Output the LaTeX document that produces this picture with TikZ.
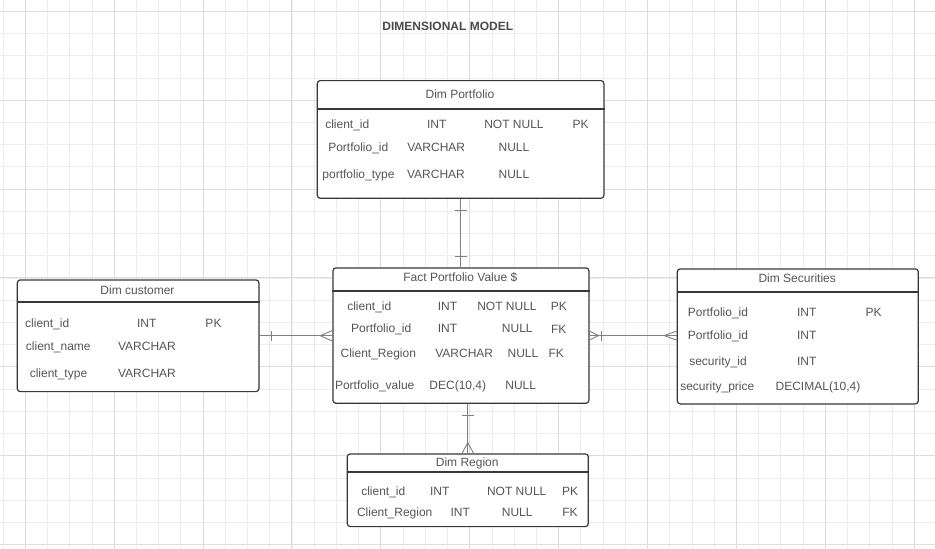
\documentclass[tikz,border=0pt]{standalone}
\usepackage{fontspec}
\setmainfont{Liberation Sans}
\definecolor{gridminor}{HTML}{EDEDED}
\definecolor{gridmajor}{HTML}{DDDDDD}
\definecolor{textgray}{HTML}{555555}
\definecolor{titlegray}{HTML}{4A4A4A}
\definecolor{boxgray}{HTML}{383838}
\definecolor{linegray}{HTML}{808080}
\newcommand\ercell[4]{\node[txt] (#1) at (#2,#3) {#4};}
\tikzset{
  txt/.style={font=\fontsize{12}{14}\selectfont, text=textgray, inner sep=0pt, text height=8.6pt, text depth=0pt, anchor=center},
  tbl/.style={draw=boxgray, line width=1.2pt, rounded corners=3pt, fill=white, anchor=north west, inner sep=0pt},
  sep/.style={draw=boxgray, line width=2pt},
  conn/.style={draw=linegray, line width=0.9pt},
  gminor/.style={draw=gridminor, line width=0.9pt},
  gmajor/.style={draw=gridmajor, line width=1pt},
}
\begin{document}
\begin{tikzpicture}[x=1pt,y=-1pt]
\fill[white] (0,0) rectangle (935,549);
\useasboundingbox (0,0) rectangle (935,549);
% grid
\foreach \i in {0,...,42} {\draw[gminor] ({3.1+22.222*\i},0) -- ({3.1+22.222*\i},549);}
\foreach \j in {0,...,24} {\draw[gminor] (0,{11.3+22.222*\j}) -- (935,{11.3+22.222*\j});}
\foreach \i in {0,...,10} {\draw[gmajor] ({25.3+88.889*\i},0) -- ({25.3+88.889*\i},549);}
\foreach \j in {0,...,6} {\draw[gmajor] (0,{11.3+88.889*\j}) -- (935,{11.3+88.889*\j});}

% title
\node[txt, font=\fontsize{12}{14}\selectfont\bfseries, text=titlegray] (title) at (447.8,25.7) {DIMENSIONAL MODEL};

% tables
\node[tbl, minimum width=286.6pt, minimum height=117.7pt] (port) at (316.7,80) {};
\node[tbl, minimum width=241.6pt, minimum height=111.7pt] (cust) at (16.7,279.3) {};
\node[tbl, minimum width=256pt, minimum height=135.4pt] (fact) at (332.3,267.3) {};
\node[tbl, minimum width=241pt, minimum height=135pt] (sec) at (676.7,268.3) {};
\node[tbl, minimum width=241pt, minimum height=72.7pt] (reg) at (346.7,453.3) {};

\draw[sep] ([yshift=-29.3pt]port.north west) -- ([yshift=-29.3pt]port.north east);
\draw[sep] ([yshift=-23pt]cust.north west) -- ([yshift=-23pt]cust.north east);
\draw[sep] ([yshift=-23.4pt]fact.north west) -- ([yshift=-23.4pt]fact.north east);
\draw[sep] ([yshift=-23.4pt]sec.north west) -- ([yshift=-23.4pt]sec.north east);
\draw[sep] ([yshift=-18.4pt]reg.north west) -- ([yshift=-18.4pt]reg.north east);

% Dim Portfolio
\ercell{pt}{460}{94}{Dim Portfolio}
\ercell{pa1}{347.3}{124.3}{client\_id}
\ercell{pb1}{436.7}{124.3}{INT}
\ercell{pc1}{514}{124.3}{NOT NULL}
\ercell{pd1}{580.7}{124.3}{PK}
\ercell{pa2}{358.3}{146.7}{Portfolio\_id}
\ercell{pb2}{436.2}{146.7}{VARCHAR}
\ercell{pc2}{514}{146.7}{NULL}
\ercell{pa3}{358.5}{174}{portfolio\_type}
\ercell{pb3}{436}{174}{VARCHAR}
\ercell{pc3}{514}{174}{NULL}

% Dim customer
\ercell{ct}{137.5}{290}{Dim customer}
\ercell{ca1}{47.2}{323.3}{client\_id}
\ercell{cb1}{146.7}{323.3}{INT}
\ercell{cc1}{213.5}{323.3}{PK}
\ercell{ca2}{58.3}{346}{client\_name}
\ercell{cb2}{147}{346}{VARCHAR}
\ercell{ca3}{58.5}{372.7}{client\_type}
\ercell{cb3}{147}{372.7}{VARCHAR}

% Fact
\ercell{ft}{460.3}{277.3}{Fact Portfolio Value \$}
\ercell{fa1}{369.3}{305.7}{client\_id}
\ercell{fb1}{447.5}{305.7}{INT}
\ercell{fc1}{507}{305.7}{NOT NULL}
\ercell{fd1}{558.8}{305.7}{PK}
\ercell{fa2}{381.2}{327.7}{Portfolio\_id}
\ercell{fb2}{447.5}{327.7}{INT}
\ercell{fc2}{517.3}{327.7}{NULL}
\ercell{fd2}{558.7}{329}{FK}
\ercell{fa3}{378.3}{353.3}{Client\_Region}
\ercell{fb3}{464.2}{353.3}{VARCHAR}
\ercell{fc3}{523}{353.3}{NULL}
\ercell{fd3}{556.3}{353.3}{FK}
\ercell{fa4}{374.7}{385.3}{Portfolio\_value}
\ercell{fb4}{457.8}{385.3}{DEC(10,4)}
\ercell{fc4}{520.7}{385.3}{NULL}

% Securities
\ercell{st}{797.2}{278.3}{Dim Securities}
\ercell{sa1}{718}{311.7}{Portfolio\_id}
\ercell{sb1}{806.7}{311.7}{INT}
\ercell{sc1}{873.7}{311.7}{PK}
\ercell{sa2}{718}{335}{Portfolio\_id}
\ercell{sb2}{806.7}{335}{INT}
\ercell{sa3}{718}{360.7}{security\_id}
\ercell{sb3}{806.7}{360.7}{INT}
\ercell{sa4}{717.3}{385.7}{security\_price}
\ercell{sb4}{818}{385.7}{DECIMAL(10,4)}

% Region
\ercell{rt}{467.2}{461.7}{Dim Region}
\ercell{ra1}{383.3}{490.7}{client\_id}
\ercell{rb1}{439.7}{490.7}{INT}
\ercell{rc1}{516.7}{490.7}{NOT NULL}
\ercell{rd1}{570}{490.7}{PK}
\ercell{ra2}{394.7}{512.3}{Client\_Region}
\ercell{rb2}{460.3}{512.3}{INT}
\ercell{rc2}{517.2}{512.3}{NULL}
\ercell{rd2}{570}{511.7}{FK}

% connectors
% Portfolio -- Fact
\draw[conn] (port.south) -- (port.south |- fact.north);
\draw[conn] ([xshift=-6pt,yshift=-11.6pt]port.south) -- ([xshift=6pt,yshift=-11.6pt]port.south);
\draw[conn] ([xshift=-6pt,yshift=11.3pt]port.south |- fact.north) -- ([xshift=6pt,yshift=11.3pt]port.south |- fact.north);

% customer -- Fact
\draw[conn] (cust.east) -- (cust.east -| fact.west);
\draw[conn] ([xshift=11.7pt,yshift=5pt]cust.east) -- ([xshift=11.7pt,yshift=-5pt]cust.east);
\draw[conn] ([yshift=5.3pt]cust.east -| fact.west) -- ([xshift=-12pt]cust.east -| fact.west) -- ([yshift=-5.3pt]cust.east -| fact.west);

% Fact -- Securities
\draw[conn] (fact.east) -- (fact.east -| sec.west);
\draw[conn] ([yshift=4.5pt]fact.east) -- ([xshift=9pt]fact.east) -- ([yshift=-4.5pt]fact.east);
\draw[conn] ([xshift=11.5pt,yshift=5pt]fact.east) -- ([xshift=11.5pt,yshift=-5pt]fact.east);
\draw[conn] ([yshift=4.5pt]fact.east -| sec.west) -- ([xshift=-12.5pt]fact.east -| sec.west) -- ([yshift=-4.5pt]fact.east -| sec.west);

% Fact -- Region
\draw[conn] (fact.south -| reg.north) -- (reg.north);
\draw[conn] ([xshift=-6pt,yshift=-11.6pt]fact.south -| reg.north) -- ([xshift=6pt,yshift=-11.6pt]fact.south -| reg.north);
\draw[conn] ([xshift=-5.8pt]reg.north) -- ([yshift=10.6pt]reg.north) -- ([xshift=5.8pt]reg.north);
\end{tikzpicture}
\end{document}
